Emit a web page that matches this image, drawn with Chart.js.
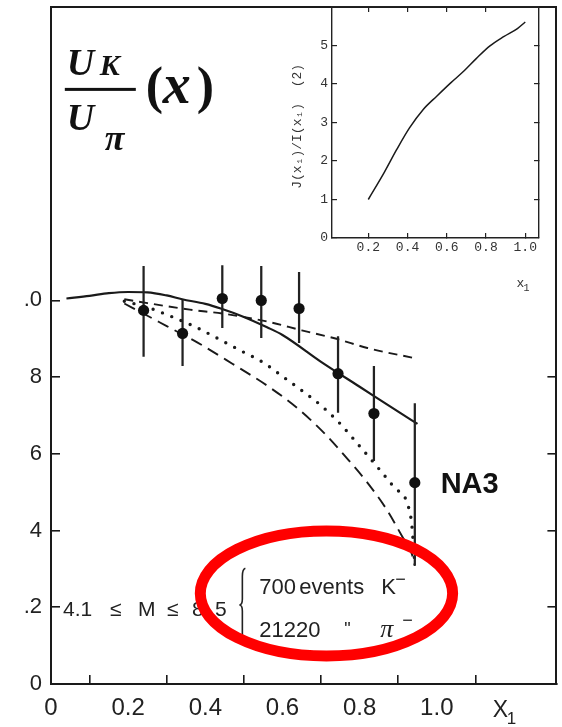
<!DOCTYPE html>
<html>
<head>
<meta charset="utf-8">
<script src="https://cdn.jsdelivr.net/npm/chart.js@4/dist/chart.umd.min.js"></script>
<style>
  html, body { margin: 0; padding: 0; background: #fff; }
  #wrap { position: relative; width: 562px; height: 727px; }
  #stage_main { position: absolute; left: 0; top: 0; }
  #stage_inset { position: absolute; left: 270px; top: 0; }
</style>
</head>
<body>
<div id="wrap">
  <canvas id="stage_main" width="562" height="727"></canvas>
  <canvas id="stage_inset" width="292" height="300"></canvas>
</div>
<script>
// 目盛り
const xTicks = [0, 0.2, 0.4, 0.6, 0.8, 1.0];
const xTickLabels = ['0', '0.2', '0.4', '0.6', '0.8', '1.0'];
const yTicks = [0, 0.2, 0.4, 0.6, 0.8, 1.0];
const yTickLabels = ['0', '.2', '4', '6', '8', '.0'];
const yRightTicks = [0.2, 0.4, 0.6, 0.8];

// NA3 の測定点とエラーバー
const na3X = [0.240, 0.341, 0.444, 0.545, 0.643, 0.744, 0.837, 0.943];
const na3Y = [0.974, 0.914, 1.005, 1.000, 0.979, 0.809, 0.705, 0.525];
const na3Lo = [0.854, 0.830, 0.929, 0.903, 0.890, 0.708, 0.582, 0.310];
const na3Hi = [1.089, 1.000, 1.091, 1.089, 1.073, 0.906, 0.828, 0.731];

// 実線
const solidX = [0.04, 0.1, 0.15, 0.2, 0.25, 0.3, 0.34, 0.4, 0.44, 0.5, 0.56, 0.6, 0.7, 0.8, 0.9, 0.95];
const solidY = [1.005, 1.012, 1.019, 1.022, 1.021, 1.013, 1.003, 0.991, 0.979, 0.957, 0.930, 0.910, 0.840, 0.775, 0.710, 0.678];

// 上の破線
const dashUpX = [0.19, 0.25, 0.36, 0.45, 0.56, 0.65, 0.74, 0.82, 0.94];
const dashUpY = [1.003, 0.993, 0.976, 0.965, 0.945, 0.922, 0.900, 0.876, 0.850];

// 点線
const dotX = [0.19, 0.25, 0.3, 0.37, 0.43, 0.49, 0.55, 0.6, 0.65, 0.7, 0.75, 0.8, 0.85, 0.89, 0.933, 0.943];
const dotY = [0.998, 0.982, 0.963, 0.933, 0.902, 0.870, 0.838, 0.802, 0.765, 0.726, 0.678, 0.620, 0.561, 0.512, 0.433, 0.315];

// 下の破線
const dashLoX = [0.19, 0.25, 0.3, 0.38, 0.47, 0.56, 0.64, 0.71, 0.77, 0.82, 0.87, 0.91, 0.935, 0.943];
const dashLoY = [0.992, 0.960, 0.933, 0.890, 0.835, 0.778, 0.718, 0.652, 0.585, 0.525, 0.455, 0.385, 0.340, 0.308];

// 挿入図 J(x1)/I(x1)
const insetX = [0.2, 0.28, 0.345, 0.41, 0.48, 0.55, 0.62, 0.69, 0.75, 0.82, 0.89, 0.96, 1.0];
const insetY = [1.0, 1.69, 2.3, 2.86, 3.34, 3.69, 4.03, 4.35, 4.66, 4.99, 5.23, 5.44, 5.61];
const insetXTicks = [0.2, 0.4, 0.6, 0.8, 1.0];
const insetXTickLabels = ['0.2', '0.4', '0.6', '0.8', '1.0'];
const insetYTicks = [0, 1, 2, 3, 4, 5];

const pairs = (xs, ys) => xs.map((v, i) => ({ x: v, y: ys[i] }));

const INK = '#1a1a1a';

function curve(data, width, dash, cap) {
  return {
    type: 'line',
    data: data,
    borderColor: INK,
    borderWidth: width,
    borderDash: dash,
    borderCapStyle: cap || 'butt',
    pointRadius: 0,
    fill: false,
    tension: 0.4,
    cubicInterpolationMode: 'monotone'
  };
}

// 軸の大きさを固定し、ラベル分の余白を消す
function fixSize(w, h) {
  return s => {
    if (w !== null) s.width = w;
    if (h !== null) s.height = h;
    s.paddingTop = 0;
    s.paddingBottom = 0;
    s.paddingLeft = 0;
    s.paddingRight = 0;
  };
}

// 注記 (タイトル、NA3、質量範囲、赤い楕円)
const notes_main = {
  id: 'notes_main',
  afterDraw(chart) {
    const ctx = chart.ctx;
    const sx = chart.scales.x, sy = chart.scales.y;
    const px = v => sx.getPixelForValue(v);
    const py = v => sy.getPixelForValue(v);
    ctx.save();
    ctx.fillStyle = '#111';
    ctx.textAlign = 'left';
    ctx.textBaseline = 'alphabetic';

    // U_K / U_pi (x)
    const tx = px(0.041), ty = py(1.588);
    ctx.font = 'italic bold 38px "Liberation Serif"';
    ctx.fillText('U', tx, ty);
    ctx.fillText('U', tx, ty + 55);
    ctx.font = 'italic bold 30px "Liberation Serif"';
    ctx.fillText('K', tx + 33, ty);
    ctx.font = 'italic bold 36px "Liberation Serif"';
    ctx.fillText('π', tx + 38, ty + 75);
    ctx.fillRect(tx - 2, ty + 13, 71, 3);
    ctx.font = 'bold 52px "Liberation Serif"';
    ctx.fillText('(', tx + 79, ty + 28);
    ctx.fillText(')', tx + 130, ty + 28);
    ctx.font = 'italic bold 56px "Liberation Serif"';
    ctx.fillText('x', tx + 96, ty + 28);

    // NA3
    ctx.font = 'bold 29px "Liberation Sans"';
    ctx.fillText('NA3', px(1.010), py(0.498));

    // 4.1 <= M <= 8.5
    ctx.fillStyle = '#222';
    ctx.font = '21px "Liberation Sans"';
    const mx = px(0.031), my = py(0.177);
    [['4.1', 0], ['≤', 47], ['M', 75], ['≤', 104], ['8', 129], ['.', 144], ['5', 152]]
      .forEach(([t, dx]) => ctx.fillText(t, mx + dx, my));

    // 中括弧
    ctx.strokeStyle = '#222';
    ctx.lineWidth = 1.6;
    const bx = px(0.496), b0 = py(0.302), bm = py(0.206), b1 = py(0.109);
    ctx.beginPath();
    ctx.moveTo(bx + 3, b0);
    ctx.quadraticCurveTo(bx, b0 + 1, bx, b0 + 8);
    ctx.lineTo(bx, bm - 6);
    ctx.quadraticCurveTo(bx, bm, bx - 3, bm);
    ctx.quadraticCurveTo(bx, bm, bx, bm + 6);
    ctx.lineTo(bx, b1 - 8);
    ctx.quadraticCurveTo(bx, b1 - 1, bx + 3, b1);
    ctx.stroke();

    // イベント数
    const ex = px(0.540), e1 = py(0.235), e2 = py(0.1225);
    ctx.font = '22px "Liberation Sans"';
    ctx.fillText('700', ex, e1);
    ctx.fillText('events', ex + 40, e1);
    ctx.fillText('K', ex + 122, e1);
    ctx.fillText('21220', ex, e2);
    ctx.font = '18px "Liberation Sans"';
    ctx.fillText('"', ex + 85, e2 - 2);
    ctx.fillText('−', ex + 136, e1 - 9);
    ctx.fillText('−', ex + 143, e2 - 11);
    ctx.font = 'italic 26px "Liberation Serif"';
    ctx.fillText('π', ex + 121, e2);

    // X_1
    ctx.font = '23px "Liberation Sans"';
    const lx = px(1.145), ly = py(-0.086);
    ctx.fillText('X', lx, ly);
    ctx.font = '17px "Liberation Sans"';
    ctx.fillText('1', lx + 14, ly + 7);

    // 赤い楕円
    ctx.strokeStyle = '#ff0000';
    ctx.lineWidth = 11;
    const cx = px(0.714), cy = py(0.236);
    ctx.beginPath();
    ctx.ellipse(cx, cy, px(0.714 + 0.327) - cx, cy - py(0.236 + 0.163), 0, 0, Math.PI * 2);
    ctx.stroke();
    ctx.restore();
  }
};

const axisFont = { family: '"Liberation Sans", Arial, sans-serif' };

const ctx_main = document.getElementById('stage_main').getContext('2d');
const config_main = {
  type: 'line',
  data: {
    datasets: [
      {
        type: 'line',
        data: pairs(na3X, na3Y),
        showLine: false,
        pointRadius: 5.6,
        pointBackgroundColor: '#111',
        pointBorderWidth: 0,
        order: 0
      },
      {
        type: 'bar',
        data: na3X.map((v, i) => ({ x: v, y: [na3Lo[i], na3Hi[i]] })),
        backgroundColor: '#222',
        borderWidth: 0,
        barThickness: 1.6,
        grouped: false,
        order: 1
      },
      Object.assign(curve(pairs(solidX, solidY), 2.2, []), { order: 2 }),
      Object.assign(curve(pairs(dashUpX, dashUpY), 1.9, [9, 6]), { order: 3 }),
      Object.assign(curve(pairs(dotX, dotY), 3.4, [0, 10], 'round'), { order: 4 }),
      Object.assign(curve(pairs(dashLoX, dashLoY), 1.9, [12, 7]), { order: 5 })
    ]
  },
  options: {
    responsive: false,
    animation: false,
    layout: { padding: { top: 7, right: 4, left: 0, bottom: 0 } },
    plugins: { legend: { display: false }, tooltip: { enabled: false } },
    scales: {
      x: {
        type: 'linear', position: 'bottom', min: 0, max: 1.31, offset: false,
        afterBuildTicks: s => { s.ticks = xTicks.map(v => ({ value: v })); },
        afterFit: fixSize(null, 43),
        border: { color: INK, width: 2 },
        grid: { drawOnChartArea: false, tickLength: -9, color: INK, lineWidth: 1.6 },
        ticks: {
          autoSkip: false, maxRotation: 0, padding: 19, color: '#222',
          font: Object.assign({ size: 24 }, axisFont),
          callback: (v, i) => xTickLabels[i]
        }
      },
      y: {
        type: 'linear', position: 'left', min: 0, max: 1.765,
        afterBuildTicks: s => { s.ticks = yTicks.map(v => ({ value: v })); },
        afterFit: fixSize(51, null),
        border: { color: INK, width: 2 },
        grid: { drawOnChartArea: false, tickLength: -9, color: INK, lineWidth: 1.6 },
        ticks: {
          autoSkip: false, padding: 18, color: '#222',
          font: Object.assign({ size: 22 }, axisFont),
          callback: (v, i) => yTickLabels[i]
        }
      },
      x_top: {
        type: 'linear', position: 'top', min: 0, max: 1.31,
        afterFit: fixSize(null, 0),
        border: { color: INK, width: 2 },
        grid: { drawOnChartArea: false, drawTicks: false },
        ticks: { display: false }
      },
      y_right: {
        type: 'linear', position: 'right', min: 0, max: 1.765,
        afterBuildTicks: s => { s.ticks = yRightTicks.map(v => ({ value: v })); },
        afterFit: fixSize(0, null),
        border: { color: INK, width: 2 },
        grid: { drawOnChartArea: false, tickLength: -9, color: INK, lineWidth: 1.6 },
        ticks: { display: false }
      }
    }
  },
  plugins: [notes_main]
};
const myChart_main = new Chart(ctx_main, config_main);

// 挿入図の軸ラベル
const notes_inset = {
  id: 'notes_inset',
  afterDraw(chart) {
    const ctx = chart.ctx;
    const sx = chart.scales.x, sy = chart.scales.y;
    ctx.save();
    ctx.fillStyle = '#333';
    ctx.font = '13px "Liberation Mono", "DejaVu Sans Mono", monospace';
    ctx.translate(sx.left - 34, sy.getPixelForValue(2.9));
    ctx.rotate(-Math.PI / 2);
    ctx.textAlign = 'center';
    ctx.textBaseline = 'middle';
    ctx.fillText('J(x₁)/I(x₁)  (2)', 0, 0);
    ctx.restore();

    ctx.save();
    ctx.fillStyle = '#333';
    ctx.textAlign = 'left';
    const lx = sx.getPixelForValue(0.955), ly = sy.getPixelForValue(-1.27);
    ctx.font = '13px "Liberation Mono", "DejaVu Sans Mono", monospace';
    ctx.fillText('x', lx, ly);
    ctx.font = '10px "Liberation Mono", "DejaVu Sans Mono", monospace';
    ctx.fillText('1', lx + 7, ly + 4);
    ctx.restore();
  }
};

const insetFont = { family: '"Liberation Mono", "DejaVu Sans Mono", monospace', size: 13 };

const ctx_inset = document.getElementById('stage_inset').getContext('2d');
const config_inset = {
  type: 'line',
  data: {
    datasets: [curve(pairs(insetX, insetY), 1.5, [])]
  },
  options: {
    responsive: false,
    animation: false,
    layout: { padding: { top: 7, right: 23, left: 0, bottom: 32 } },
    plugins: { legend: { display: false }, tooltip: { enabled: false } },
    scales: {
      x: {
        type: 'linear', position: 'bottom', min: 0.015, max: 1.07,
        afterBuildTicks: s => { s.ticks = insetXTicks.map(v => ({ value: v })); },
        afterFit: fixSize(null, 30),
        border: { color: '#222', width: 1.4 },
        grid: { drawOnChartArea: false, tickLength: -5, color: '#222', lineWidth: 1.2 },
        ticks: {
          autoSkip: false, maxRotation: 0, padding: 7, color: '#333', font: insetFont,
          callback: (v, i) => insetXTickLabels[i]
        }
      },
      y: {
        type: 'linear', position: 'left', min: 0, max: 6,
        afterBuildTicks: s => { s.ticks = insetYTicks.map(v => ({ value: v })); },
        afterFit: fixSize(62, null),
        border: { color: '#222', width: 1.4 },
        grid: { drawOnChartArea: false, tickLength: -5, color: '#222', lineWidth: 1.2 },
        ticks: { autoSkip: false, padding: 9, color: '#333', font: insetFont }
      },
      x_top: {
        type: 'linear', position: 'top', min: 0.015, max: 1.07,
        afterBuildTicks: s => { s.ticks = [0.2, 0.4, 0.6, 0.8].map(v => ({ value: v })); },
        afterFit: fixSize(null, 0),
        border: { color: '#222', width: 1.4 },
        grid: { drawOnChartArea: false, tickLength: -5, color: '#222', lineWidth: 1.2 },
        ticks: { display: false }
      },
      y_right: {
        type: 'linear', position: 'right', min: 0, max: 6,
        afterBuildTicks: s => { s.ticks = [1, 2, 3, 4, 5].map(v => ({ value: v })); },
        afterFit: fixSize(0, null),
        border: { color: '#222', width: 1.4 },
        grid: { drawOnChartArea: false, tickLength: -5, color: '#222', lineWidth: 1.2 },
        ticks: { display: false }
      }
    }
  },
  plugins: [notes_inset]
};
const myChart_inset = new Chart(ctx_inset, config_inset);
</script>
</body>
</html>
